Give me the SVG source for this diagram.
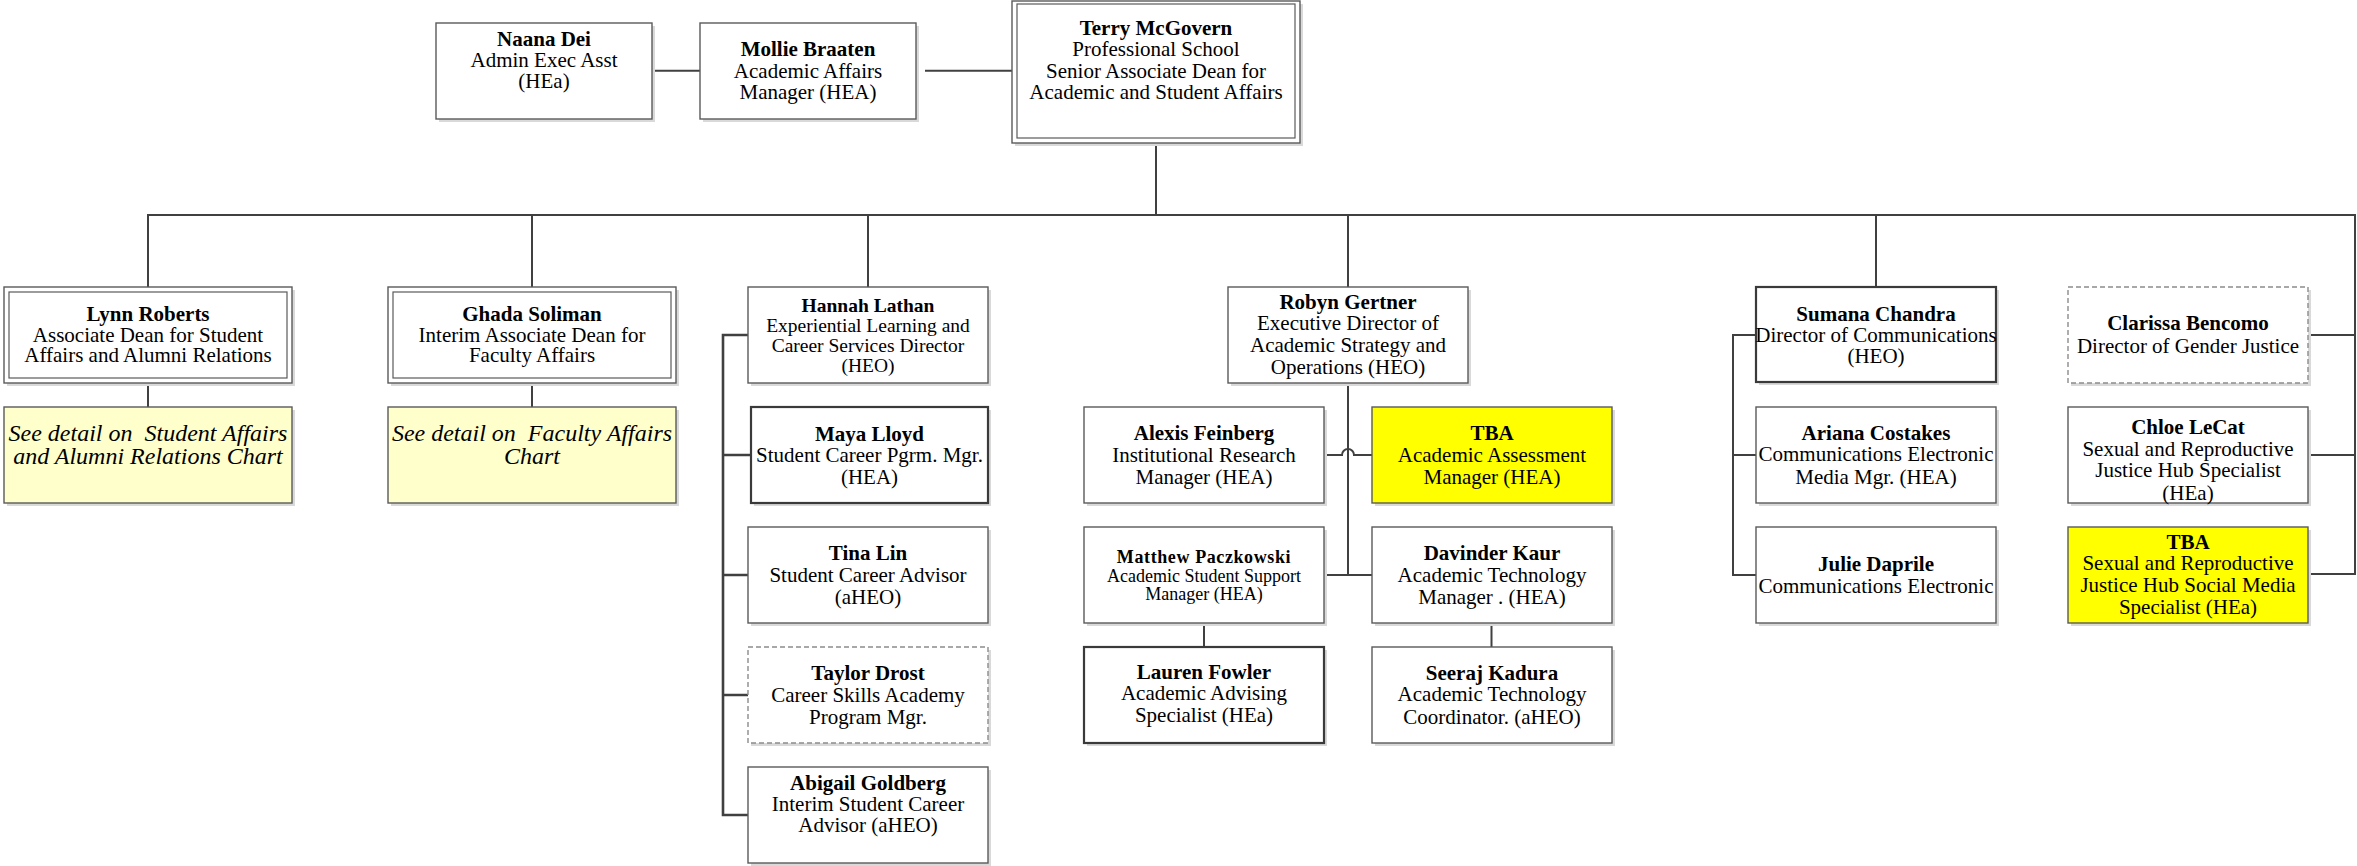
<svg xmlns="http://www.w3.org/2000/svg" width="2357" height="866" viewBox="0 0 2357 866">
<style>
  .bg{fill:#fff}
  .sh{fill:#d9d9d9}
  .box{fill:#fff;stroke:#5a5a5a;stroke-width:1.4}
  .thick{fill:#fff;stroke:#3a3a3a;stroke-width:2.2}
  .dash{fill:#fff;stroke:#8c8c8c;stroke-width:1.4;stroke-dasharray:5 3}
  .yel{fill:#ffff00;stroke:#5a5a5a;stroke-width:1.4}
  .lyel{fill:#ffffcc;stroke:#5a5a5a;stroke-width:1.4}
  .inner{fill:none;stroke:#5a5a5a;stroke-width:1.2}
  text{font-family:"Liberation Serif","Times New Roman",serif;fill:#000;text-anchor:middle;font-size:21px}
  .b{font-weight:bold}
  .s19{font-size:19.5px}
  .s18{font-size:18px}
  .it{font-style:italic;font-size:24px;white-space:pre}
  .con{fill:none;stroke:#404040;stroke-width:2}
  .con3{fill:none;stroke:#404040;stroke-width:2.6}
</style>
<rect class="bg" x="0" y="0" width="2357" height="866"/>

<g id="connectors">
  <path class="con" d="M652 70.7H700"/>
  <path class="con" d="M925 70.7H1012"/>
  <path class="con" d="M1156 143V215"/>
  <path class="con" d="M148 287V215H2355V574H2308"/>
  <path class="con" d="M532 215V287"/>
  <path class="con" d="M868 215V287"/>
  <path class="con" d="M1348 215V287"/>
  <path class="con" d="M1876 215V287"/>
  <path class="con" d="M2355 335H2308M2355 455H2308"/>
  <path class="con" d="M148 383V407M532 383V407"/>
  <path class="con3" d="M748 335H723V815H748M723 455H751M723 575H748M723 695H748"/>
  <path class="con" d="M1348 383V575"/>
  <path class="con" d="M1324 455H1342A6 6 0 0 1 1354 455H1372"/>
  <path class="con" d="M1324 575H1372"/>
  <path class="con" d="M1204 623V647M1491.5 623V647"/>
  <path class="con" d="M1756 335H1733V575H1756M1733 455H1756"/>
</g>

<g id="naana">
  <rect class="sh" x="439" y="26" width="216" height="96"/>
  <rect class="box" x="436" y="23" width="216" height="96"/>
  <text x="544" y="45.5"><tspan class="b">Naana Dei</tspan><tspan x="544" y="67">Admin Exec Asst</tspan><tspan x="544" y="88">(HEa)</tspan></text>
</g>
<g id="mollie">
  <rect class="sh" x="703" y="26" width="216" height="96"/>
  <rect class="box" x="700" y="23" width="216" height="96"/>
  <text x="808" y="55.5"><tspan class="b">Mollie Braaten</tspan><tspan x="808" y="78">Academic Affairs</tspan><tspan x="808" y="99">Manager (HEA)</tspan></text>
</g>
<g id="terry">
  <rect class="sh" x="1015" y="4" width="288" height="142"/>
  <rect class="box" x="1012" y="1" width="288" height="142"/>
  <rect class="inner" x="1017" y="4" width="278" height="134"/>
  <text x="1156" y="34.5"><tspan class="b">Terry McGovern</tspan><tspan x="1156" y="55.5">Professional School</tspan><tspan x="1156" y="78">Senior Associate Dean for</tspan><tspan x="1156" y="99">Academic and Student Affairs</tspan></text>
</g>

<g id="lynn">
  <rect class="sh" x="7" y="290" width="288" height="96"/>
  <rect class="box" x="4" y="287" width="288" height="96"/>
  <rect class="inner" x="9" y="292" width="278" height="86"/>
  <text x="148" y="320.5"><tspan class="b">Lynn Roberts</tspan><tspan x="148" y="341.5">Associate Dean for Student</tspan><tspan x="148" y="362">Affairs and Alumni Relations</tspan></text>
</g>
<g id="lynn-detail">
  <rect class="sh" x="7" y="410" width="288" height="96"/>
  <rect class="lyel" x="4" y="407" width="288" height="96"/>
  <text class="it" x="148" y="441">See detail on  Student Affairs</text>
  <text class="it" x="148" y="463.5">and Alumni Relations Chart</text>
</g>
<g id="ghada">
  <rect class="sh" x="391" y="290" width="288" height="96"/>
  <rect class="box" x="388" y="287" width="288" height="96"/>
  <rect class="inner" x="393" y="292" width="278" height="86"/>
  <text x="532" y="320.5"><tspan class="b">Ghada Soliman</tspan><tspan x="532" y="341.5">Interim Associate Dean for</tspan><tspan x="532" y="362">Faculty Affairs</tspan></text>
</g>
<g id="ghada-detail">
  <rect class="sh" x="391" y="410" width="288" height="96"/>
  <rect class="lyel" x="388" y="407" width="288" height="96"/>
  <text class="it" x="532" y="441">See detail on  Faculty Affairs</text>
  <text class="it" x="532" y="463.5">Chart</text>
</g>

<g id="hannah">
  <rect class="sh" x="751" y="290" width="240" height="96"/>
  <rect class="box" x="748" y="287" width="240" height="96"/>
  <text class="s19" x="868" y="311.8"><tspan class="b">Hannah Lathan</tspan><tspan x="868" y="331.8">Experiential Learning and</tspan><tspan x="868" y="351.8">Career Services Director</tspan><tspan x="868" y="371.8">(HEO)</tspan></text>
</g>
<g id="maya">
  <rect class="sh" x="754" y="410" width="237" height="96"/>
  <rect class="thick" x="751" y="407" width="237" height="96"/>
  <text x="869.5" y="440.5"><tspan class="b">Maya Lloyd</tspan><tspan x="869.5" y="462">Student Career Pgrm. Mgr.</tspan><tspan x="869.5" y="483.7">(HEA)</tspan></text>
</g>
<g id="tina">
  <rect class="sh" x="751" y="530" width="240" height="96"/>
  <rect class="box" x="748" y="527" width="240" height="96"/>
  <text x="868" y="560"><tspan class="b">Tina Lin</tspan><tspan x="868" y="582">Student Career Advisor</tspan><tspan x="868" y="604">(aHEO)</tspan></text>
</g>
<g id="taylor">
  <rect class="sh" x="751" y="650" width="240" height="96"/>
  <rect class="dash" x="748" y="647" width="240" height="96"/>
  <text x="868" y="680"><tspan class="b">Taylor Drost</tspan><tspan x="868" y="702">Career Skills Academy</tspan><tspan x="868" y="723.7">Program Mgr.</tspan></text>
</g>
<g id="abigail">
  <rect class="sh" x="751" y="770" width="240" height="96"/>
  <rect class="box" x="748" y="767" width="240" height="96"/>
  <text x="868" y="790"><tspan class="b">Abigail Goldberg</tspan><tspan x="868" y="811">Interim Student Career</tspan><tspan x="868" y="832">Advisor (aHEO)</tspan></text>
</g>

<g id="robyn">
  <rect class="sh" x="1231" y="290" width="240" height="96"/>
  <rect class="box" x="1228" y="287" width="240" height="96"/>
  <text x="1348" y="309.3"><tspan class="b">Robyn Gertner</tspan><tspan x="1348" y="330.3">Executive Director of</tspan><tspan x="1348" y="352">Academic Strategy and</tspan><tspan x="1348" y="373.7">Operations (HEO)</tspan></text>
</g>
<g id="alexis">
  <rect class="sh" x="1087" y="410" width="240" height="96"/>
  <rect class="box" x="1084" y="407" width="240" height="96"/>
  <text x="1204" y="440"><tspan class="b">Alexis Feinberg</tspan><tspan x="1204" y="461.5">Institutional Research</tspan><tspan x="1204" y="483.7">Manager (HEA)</tspan></text>
</g>
<g id="tba-assessment">
  <rect class="sh" x="1375" y="410" width="240" height="96"/>
  <rect class="yel" x="1372" y="407" width="240" height="96"/>
  <text x="1492" y="440"><tspan class="b">TBA</tspan><tspan x="1492" y="461.5">Academic Assessment</tspan><tspan x="1492" y="483.7">Manager (HEA)</tspan></text>
</g>
<g id="matthew">
  <rect class="sh" x="1087" y="530" width="240" height="96"/>
  <rect class="box" x="1084" y="527" width="240" height="96"/>
  <text class="s18" x="1204" y="563"><tspan class="b" letter-spacing="0.6">Matthew Paczkowski</tspan><tspan x="1204" y="582.3">Academic Student Support</tspan><tspan x="1204" y="600.3">Manager (HEA)</tspan></text>
</g>
<g id="davinder">
  <rect class="sh" x="1375" y="530" width="240" height="96"/>
  <rect class="box" x="1372" y="527" width="240" height="96"/>
  <text x="1492" y="560"><tspan class="b">Davinder Kaur</tspan><tspan x="1492" y="582">Academic Technology</tspan><tspan x="1492" y="604">Manager . (HEA)</tspan></text>
</g>
<g id="lauren">
  <rect class="sh" x="1087" y="650" width="240" height="96"/>
  <rect class="thick" x="1084" y="647" width="240" height="96"/>
  <text x="1204" y="679"><tspan class="b">Lauren Fowler</tspan><tspan x="1204" y="700">Academic Advising</tspan><tspan x="1204" y="722">Specialist (HEa)</tspan></text>
</g>
<g id="seeraj">
  <rect class="sh" x="1375" y="650" width="240" height="96"/>
  <rect class="box" x="1372" y="647" width="240" height="96"/>
  <text x="1492" y="680"><tspan class="b">Seeraj Kadura</tspan><tspan x="1492" y="701">Academic Technology</tspan><tspan x="1492" y="724">Coordinator. (aHEO)</tspan></text>
</g>

<g id="sumana">
  <rect class="sh" x="1759" y="290" width="240" height="95"/>
  <rect class="thick" x="1756" y="287" width="240" height="95"/>
  <text x="1876" y="320.5"><tspan class="b">Sumana Chandra</tspan><tspan x="1876" y="342">Director of Communications</tspan><tspan x="1876" y="363">(HEO)</tspan></text>
</g>
<g id="ariana">
  <rect class="sh" x="1759" y="410" width="240" height="96"/>
  <rect class="box" x="1756" y="407" width="240" height="96"/>
  <text x="1876" y="440"><tspan class="b">Ariana Costakes</tspan><tspan x="1876" y="461">Communications Electronic</tspan><tspan x="1876" y="483.7">Media Mgr. (HEA)</tspan></text>
</g>
<g id="julie">
  <rect class="sh" x="1759" y="530" width="240" height="96"/>
  <rect class="box" x="1756" y="527" width="240" height="96"/>
  <text x="1876" y="571.3"><tspan class="b">Julie Daprile</tspan><tspan x="1876" y="592.7">Communications Electronic</tspan></text>
</g>

<g id="clarissa">
  <rect class="sh" x="2071" y="290" width="240" height="96"/>
  <rect class="dash" x="2068" y="287" width="240" height="96"/>
  <text x="2188" y="330.3"><tspan class="b">Clarissa Bencomo</tspan><tspan x="2188" y="352.7">Director of Gender Justice</tspan></text>
</g>
<g id="chloe">
  <rect class="sh" x="2071" y="410" width="240" height="96"/>
  <rect class="box" x="2068" y="407" width="240" height="96"/>
  <text x="2188" y="433.7"><tspan class="b">Chloe LeCat</tspan><tspan x="2188" y="456.3">Sexual and Reproductive</tspan><tspan x="2188" y="477">Justice Hub Specialist</tspan><tspan x="2188" y="499.7">(HEa)</tspan></text>
</g>
<g id="tba-social">
  <rect class="sh" x="2071" y="530" width="240" height="96"/>
  <rect class="yel" x="2068" y="527" width="240" height="96"/>
  <text x="2188" y="548.7"><tspan class="b">TBA</tspan><tspan x="2188" y="570.3">Sexual and Reproductive</tspan><tspan x="2188" y="592">Justice Hub Social Media</tspan><tspan x="2188" y="613.7">Specialist (HEa)</tspan></text>
</g>
</svg>
